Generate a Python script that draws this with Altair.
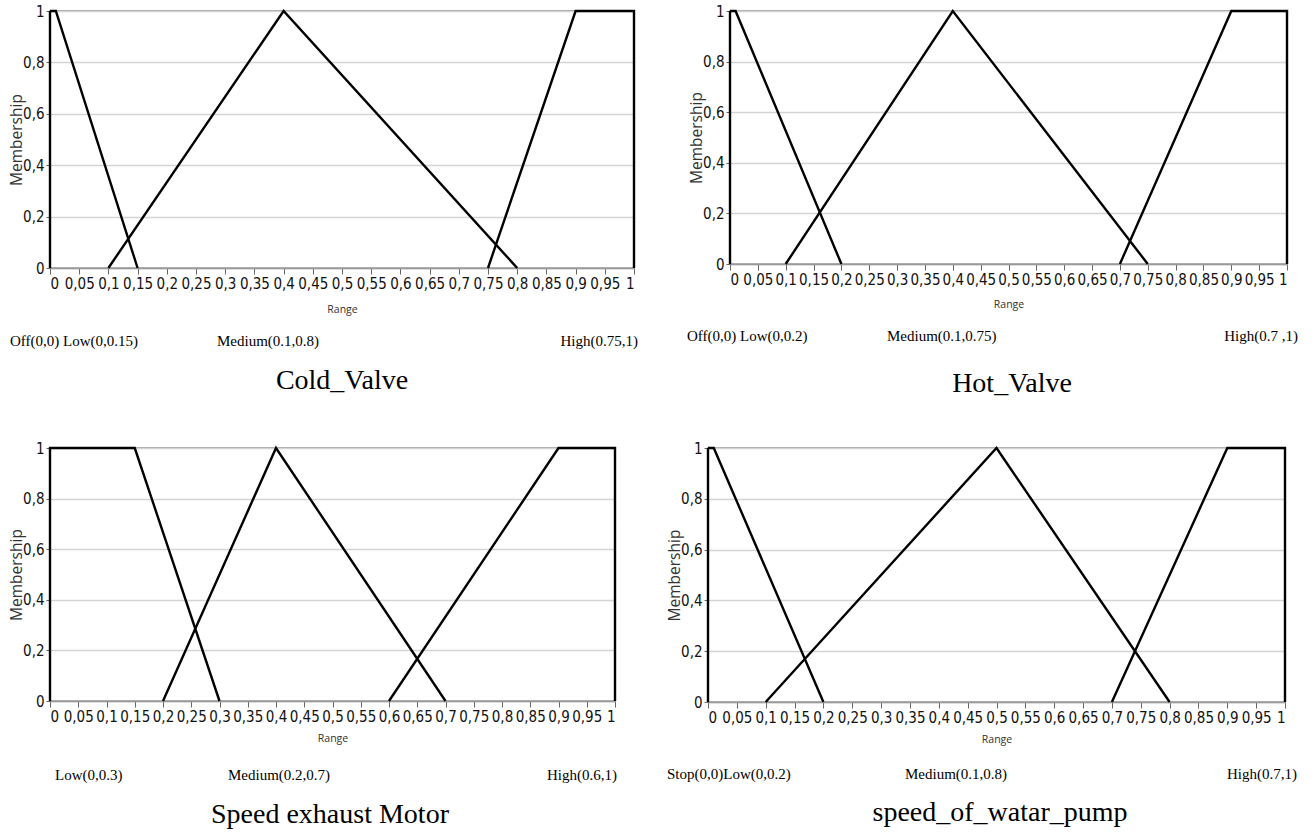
import altair as alt
import pandas as pd

# ---------------- data ----------------
x_tick_values = [0, 0.05, 0.1, 0.15, 0.2, 0.25, 0.3, 0.35, 0.4, 0.45, 0.5,
                 0.55, 0.6, 0.65, 0.7, 0.75, 0.8, 0.85, 0.9, 0.95, 1]
y_tick_values = [0, 0.2, 0.4, 0.6, 0.8, 1]

# Cold_Valve
cold_sets = ["Off", "Low", "Medium", "High"]
cold_x = [[0, 0], [0, 0.01, 0.15], [0.1, 0.4, 0.8], [0.75, 0.9, 1, 1]]
cold_y = [[0, 1], [1, 1, 0], [0, 1, 0], [0, 1, 1, 0]]
cold_notes = ["Off(0,0) Low(0,0.15)", "Medium(0.1,0.8)", "High(0.75,1)"]
cold_title = "Cold_Valve"

# Hot_Valve
hot_sets = ["Off", "Low", "Medium", "High"]
hot_x = [[0, 0], [0, 0.01, 0.2], [0.1, 0.4, 0.75], [0.7, 0.9, 1, 1]]
hot_y = [[0, 1], [1, 1, 0], [0, 1, 0], [0, 1, 1, 0]]
hot_notes = ["Off(0,0) Low(0,0.2)", "Medium(0.1,0.75)", "High(0.7 ,1)"]
hot_title = "Hot_Valve"

# Speed exhaust Motor
motor_sets = ["Low", "Medium", "High"]
motor_x = [[0, 0, 0.15, 0.3], [0.2, 0.4, 0.7], [0.6, 0.9, 1, 1]]
motor_y = [[0, 1, 1, 0], [0, 1, 0], [0, 1, 1, 0]]
motor_notes = ["Low(0,0.3)", "Medium(0.2,0.7)", "High(0.6,1)"]
motor_title = "Speed exhaust Motor"

# speed_of_watar_pump
pump_sets = ["Stop", "Low", "Medium", "High"]
pump_x = [[0, 0], [0, 0.01, 0.2], [0.1, 0.5, 0.8], [0.7, 0.9, 1, 1]]
pump_y = [[0, 1], [1, 1, 0], [0, 1, 0], [0, 1, 1, 0]]
pump_notes = ["Stop(0,0)Low(0,0.2)", "Medium(0.1,0.8)", "High(0.7,1)"]
pump_title = "speed_of_watar_pump"

# ---------------- layout (pixels, relative to each plot area) ----------------
LAYOUT = {
    "cold": dict(w=584, h=257, nx=[-40, 167, 588], ny=330, tx=292, ty=370, ry=41),
    "hot": dict(w=557, h=253, nx=[-43, 157, 568], ny=325, tx=282, ty=373, ry=40),
    "motor": dict(w=565, h=253, nx=[5, 178, 567], ny=327, tx=280, ty=367, ry=37),
    "pump": dict(w=577, h=254, nx=[-41, 197, 589], ny=326, tx=292, ty=365, ry=37),
}

TICK_FONT = "Liberation Sans Narrow, DejaVu Sans Condensed, Roboto Condensed, sans-serif"
SERIF = "Liberation Serif, Times New Roman, serif"


def table(sets, xs, ys):
    rows = []
    for s, xl, yl in zip(sets, xs, ys):
        for i, (a, b) in enumerate(zip(xl, yl)):
            rows.append({"set": s, "x": a, "y": b, "o": i})
    return pd.DataFrame(rows)


def panel(sets, xs, ys, notes, title, lay):
    df = table(sets, xs, ys)
    lines = alt.Chart(df).mark_line(color="black", strokeWidth=2.4).encode(
        x=alt.X("x:Q",
                scale=alt.Scale(domain=[0, 1], nice=False, zero=False),
                axis=alt.Axis(values=x_tick_values,
                              labelExpr="replace('' + round(datum.value * 100) / 100, '.', ',')",
                              title="Range", grid=False, tickSize=6,
                              titleY=lay["ry"], titleBaseline="middle")),
        y=alt.Y("y:Q",
                scale=alt.Scale(domain=[0, 1], nice=False, zero=False),
                axis=alt.Axis(values=y_tick_values,
                              labelExpr="replace('' + round(datum.value * 10) / 10, '.', ',')",
                              title="Membership", grid=True, tickSize=4, domain=False,
                              titleX=-34, titleBaseline="middle")),
        detail="set:N",
        order="o:Q",
    )
    layers = [lines]
    aligns = ["left", "left", "right"]
    for txt, px, al in zip(notes, lay["nx"], aligns):
        layers.append(
            alt.Chart(pd.DataFrame({"t": [txt]})).mark_text(
                font=SERIF, fontSize=15, align=al, baseline="middle", color="black"
            ).encode(text="t:N", x=alt.value(px), y=alt.value(lay["ny"]))
        )
    layers.append(
        alt.Chart(pd.DataFrame({"t": [title]})).mark_text(
            font=SERIF, fontSize=28, align="center", baseline="middle", color="black"
        ).encode(text="t:N", x=alt.value(lay["tx"]), y=alt.value(lay["ty"]))
    )
    return alt.layer(*layers).properties(width=lay["w"], height=lay["h"])


p1 = panel(cold_sets, cold_x, cold_y, cold_notes, cold_title, LAYOUT["cold"])
p2 = panel(hot_sets, hot_x, hot_y, hot_notes, hot_title, LAYOUT["hot"])
p3 = panel(motor_sets, motor_x, motor_y, motor_notes, motor_title, LAYOUT["motor"])
p4 = panel(pump_sets, pump_x, pump_y, pump_notes, pump_title, LAYOUT["pump"])

row1 = alt.hconcat(p1, p2, spacing=96, bounds="flush")
row2 = alt.hconcat(p3, p4, spacing=93, bounds="flush")

chart = alt.vconcat(
    row1, row2, spacing=41
).properties(
    padding={"left": 8, "top": 3, "right": 5, "bottom": 5},
    background="white",
).configure_view(
    stroke="#8a8a8a", strokeWidth=1.5
).configure_axis(
    labelFont=TICK_FONT, labelFontSize=15, labelColor="#111",
    tickColor="#666", tickWidth=1, labelPadding=2,
    domainColor="#9a9a9a", domainWidth=1.5,
    gridColor="#d4d4d4", gridWidth=1.5,
    titleFont="Open Sans", titleFontWeight="normal", titleColor="#333",
).configure_axisY(
    titleFontSize=15.5
).configure_axisX(
    titleFontSize=10.5
)

chart.save("out.html", embed_options={"renderer": "svg", "actions": False})
